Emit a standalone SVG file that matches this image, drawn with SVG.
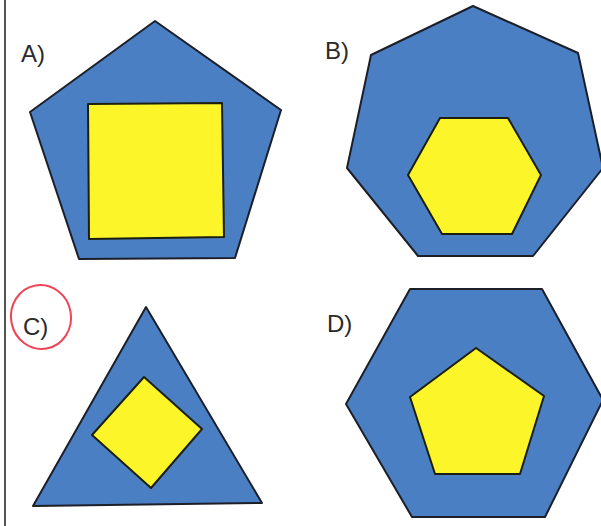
<svg xmlns="http://www.w3.org/2000/svg" width="601" height="526" viewBox="0 0 601 526">
<style>
.outer{fill:#4a7fc3;stroke:#1c1f28;stroke-width:2;stroke-linejoin:round}
.inner{fill:#fbf52a;stroke:#1c1f10;stroke-width:2;stroke-linejoin:round}
.lbl{font-family:"Liberation Sans",Arial,sans-serif;font-size:24px;fill:#2a2a2a}
</style>
<rect x="0" y="0" width="601" height="526" fill="#ffffff"/>
<line x1="5" y1="0" x2="5" y2="526" stroke="#555" stroke-width="2"/>
<g id="A">
<polygon class="outer" points="155,21 281,110 235,258 79,259 30,112"/>
<polygon class="inner" points="88,104 222,103 224,237 89,239"/>
<text class="lbl" x="21" y="62">A)</text>
</g>
<g id="B">
<polygon class="outer" points="473,6 578,53 603,168 533,256 418,256 347,168 371,55"/>
<polygon class="inner" points="440,118 508,118 541,175 512,234 442,234 408,175"/>
<text class="lbl" x="325" y="59">B)</text>
</g>
<g id="C">
<polygon class="outer" points="146,307 262,503 33,506"/>
<polygon class="inner" points="144,377 202,429 151,488 92,435"/>
<text class="lbl" x="23" y="335">C)</text>
<ellipse cx="41" cy="317" rx="30" ry="32" fill="none" stroke="#ee4455" stroke-width="2" transform="rotate(-10 41 317)"/>
</g>
<g id="D">
<polygon class="outer" points="410,289 542,289 603,400 545,517 412,517 346,404"/>
<polygon class="inner" points="476,348 544,396 520,474 435,474 410,397"/>
<text class="lbl" x="327" y="332">D)</text>
</g>
<g id="connectors"></g>
</svg>
